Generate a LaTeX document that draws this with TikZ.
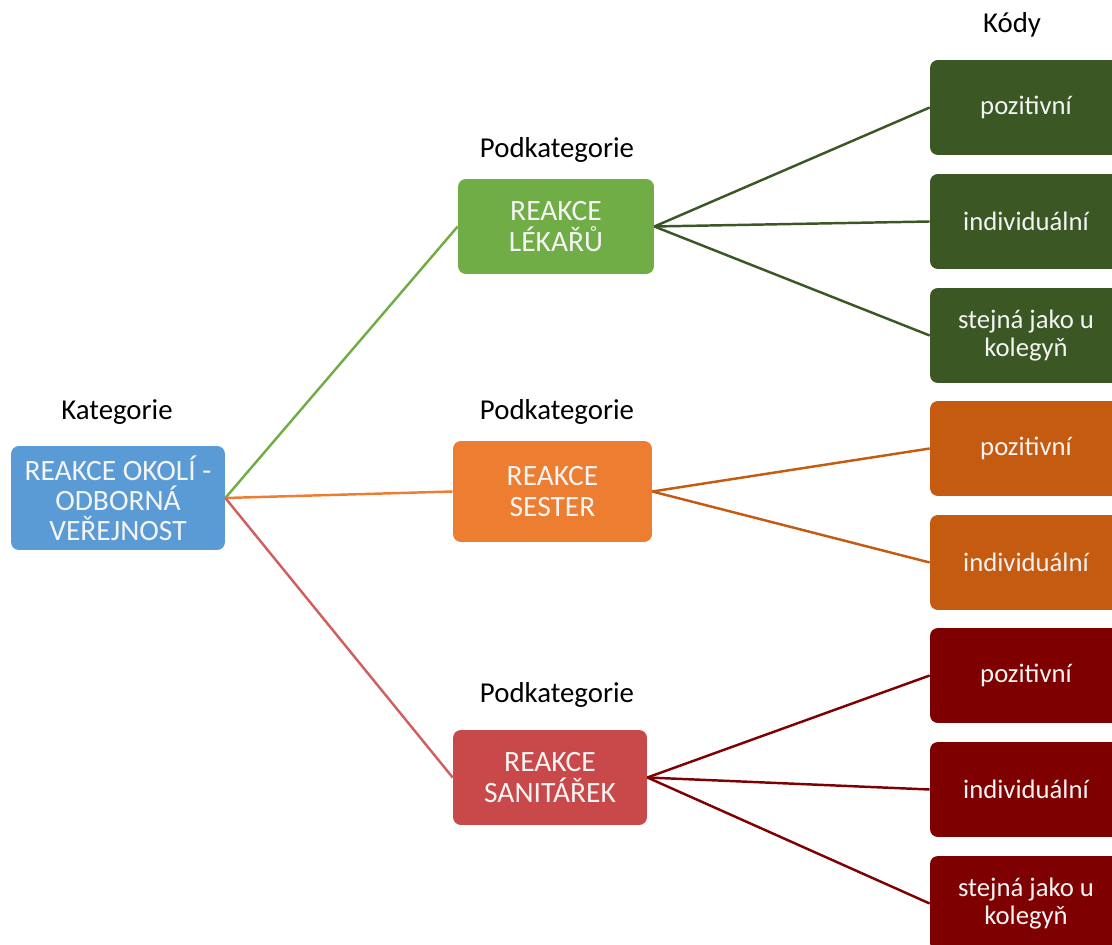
\documentclass[tikz,border=0pt]{standalone}
\usepackage{fontspec}
\setmainfont{Carlito}
\usepackage{tikz}
\usetikzlibrary{positioning}
\definecolor{modra}{HTML}{5B9BD5}
\definecolor{zelena}{HTML}{70AD47}
\definecolor{oranz}{HTML}{ED7D31}
\definecolor{cervena}{HTML}{C9494B}
\definecolor{cervenacara}{HTML}{D0605F}
\definecolor{zeltmava}{HTML}{3A5724}
\definecolor{oranztmava}{HTML}{C55A11}
\definecolor{cervtmava}{HTML}{7F0000}
\definecolor{bila}{HTML}{F4F4F4}
\tikzset{
  kategorie/.style={rectangle,rounded corners=4.5pt,fill=modra,text=bila,inner sep=0pt,minimum width=4.28cm,minimum height=2.08cm,align=center,font=\fontsize{16.8}{17}\selectfont},
  podkat/.style={rectangle,rounded corners=4.5pt,text=bila,inner sep=0pt,minimum width=3.92cm,minimum height=1.9cm,align=center,font=\fontsize{16.8}{18}\selectfont},
  kod/.style={rectangle,rounded corners=4.5pt,text=bila,inner sep=0pt,minimum width=3.84cm,minimum height=1.9cm,align=center,font=\fontsize{15.2}{16}\selectfont},
  popisek/.style={inner sep=0pt,text=black,font=\fontsize{16.4}{18}\selectfont},
  spoj/.style={line width=1.4pt},
}
\begin{document}
\begin{tikzpicture}[x=0.02cm,y=-0.02cm]
\useasboundingbox (0,0) rectangle (1112,945);
\clip (0,0) rectangle (1112,945);
% kategorie
\node[popisek] (lkat) at (117,412) {Kategorie};
\node[kategorie] (kat) at (118,498) {REAKCE OKOLÍ -\\ODBORNÁ\\VEŘEJNOST};
% podkategorie
\node[popisek] (lpod1) at (557,150) {Podkategorie};
\node[podkat,fill=zelena] (lek) at (556,226.5) {REAKCE\\LÉKAŘŮ};
\node[popisek] (lpod2) at (557,412) {Podkategorie};
\node[podkat,fill=oranz,minimum width=3.98cm,minimum height=2.02cm] (ses) at (552.5,491.5) {REAKCE\\SESTER};
\node[popisek] (lpod3) at (557,695) {Podkategorie};
\node[podkat,fill=cervena,minimum width=3.88cm] (san) at (550,777.5) {REAKCE\\SANITÁŘEK};
% kody
\node[popisek] (lkod) at (1012,25) {Kódy};
\node[kod,fill=zeltmava] (l1) at (1026,107.5) {pozitivní};
\node[kod,fill=zeltmava] (l2) at (1026,221.5) {individuální};
\node[kod,fill=zeltmava] (l3) at (1026,335.5) {stejná jako u\\kolegyň};
\node[kod,fill=oranztmava] (s1) at (1026,448.5) {pozitivní};
\node[kod,fill=oranztmava] (s2) at (1026,562.5) {individuální};
\node[kod,fill=cervtmava] (n1) at (1026,675.5) {pozitivní};
\node[kod,fill=cervtmava] (n2) at (1026,789.5) {individuální};
\node[kod,fill=cervtmava] (n3) at (1026,903.5) {stejná jako u\\kolegyň};
% spoje
\draw[spoj,draw=zelena] (kat.east) -- (lek.west);
\draw[spoj,draw=oranz] (kat.east) -- (ses.west);
\draw[spoj,draw=cervenacara] (kat.east) -- (san.west);
\draw[spoj,draw=zeltmava] (lek.east) -- (l1.west);
\draw[spoj,draw=zeltmava] (lek.east) -- (l2.west);
\draw[spoj,draw=zeltmava] (lek.east) -- (l3.west);
\draw[spoj,draw=oranztmava] (ses.east) -- (s1.west);
\draw[spoj,draw=oranztmava] (ses.east) -- (s2.west);
\draw[spoj,draw=cervtmava] (san.east) -- (n1.west);
\draw[spoj,draw=cervtmava] (san.east) -- (n2.west);
\draw[spoj,draw=cervtmava] (san.east) -- (n3.west);
\end{tikzpicture}
\end{document}
